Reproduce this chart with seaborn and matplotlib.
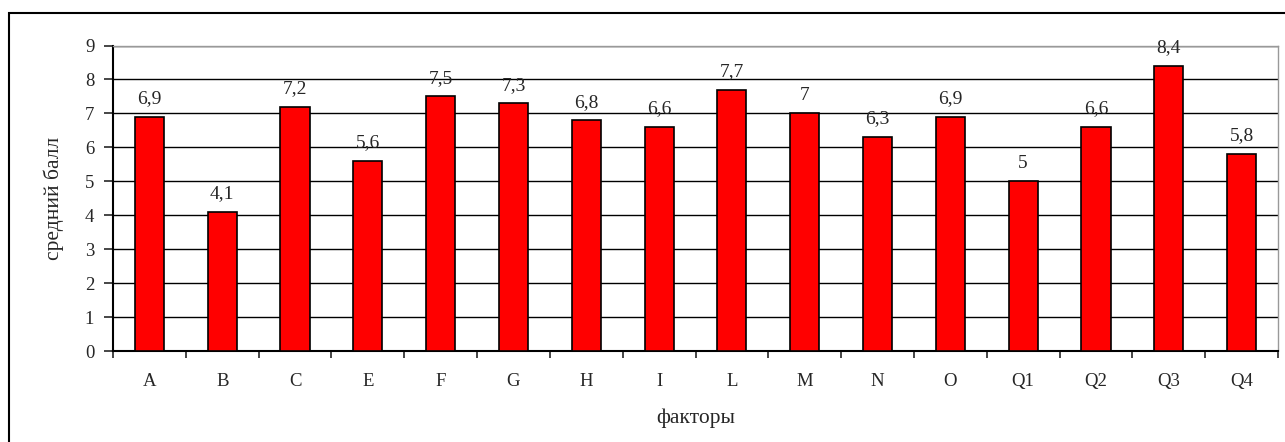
import matplotlib
matplotlib.use("Agg")
import matplotlib.pyplot as plt
import seaborn as sns
import pandas as pd
from matplotlib.patches import Rectangle

# данные
factors = ['A', 'B', 'C', 'E', 'F', 'G', 'H', 'I', 'L', 'M', 'N', 'O', 'Q1', 'Q2', 'Q3', 'Q4']
scores = [6.9, 4.1, 7.2, 5.6, 7.5, 7.3, 6.8, 6.6, 7.7, 7.0, 6.3, 6.9, 5.0, 6.6, 8.4, 5.8]

df = pd.DataFrame({'factor': factors, 'score': scores})

sns.set_style("white")
plt.rcParams['font.family'] = ['Liberation Serif', 'DejaVu Serif']
FS_TICK = 13.5
FS_VAL = 14
FS_TITLE = 15.5

fig = plt.figure(figsize=(12.85, 4.42), dpi=100)
ax = fig.add_axes([113 / 1285, 1 - 351 / 442, (1278 - 113) / 1285, (351 - 45.5) / 442])

sns.barplot(data=df, x='factor', y='score', ax=ax, color='#ff0000',
            edgecolor='black', linewidth=1.2, width=0.4, saturation=1, zorder=3)

ax.set_ylim(0, 9)
ax.set_xlim(-0.5, len(factors) - 0.5)
ax.set_yticks(range(0, 10))
ax.yaxis.grid(True, color='black', linewidth=1.0, zorder=0)
ax.set_axisbelow(True)

# подписи значений
for i, v in enumerate(scores):
    txt = f'{v:g}'.replace('.', ',')
    ax.text(i, v + 0.4, txt, ha='center', va='baseline', fontsize=FS_VAL)

# оси
for s in ['left', 'bottom']:
    ax.spines[s].set_color('black')
    ax.spines[s].set_linewidth(1.5)
for s in ['top', 'right']:
    ax.spines[s].set_color('#999999')
    ax.spines[s].set_linewidth(1.0)

ax.tick_params(axis='y', which='major', direction='out', length=6.5, width=1.2,
               left=True, labelsize=FS_TICK, pad=7)
ax.tick_params(axis='x', which='major', length=0, labelsize=FS_TICK, pad=16)
ax.set_xticks(range(len(factors)))
ax.set_xticklabels(factors)
ax.set_xticks([i - 0.5 for i in range(len(factors) + 1)], minor=True)
ax.tick_params(axis='x', which='minor', direction='out', length=5, width=1.2, bottom=True)

ax.set_xlabel('факторы', fontsize=FS_TITLE)
ax.set_ylabel('средний балл', fontsize=FS_TITLE)
ax.xaxis.set_label_coords(0.5, -0.188)
ax.yaxis.set_label_coords(-0.042, 0.5)

# рамка вокруг диаграммы
fig.patches.append(Rectangle((9 / 1285, -0.05), 1.0, 1 - 13 / 442 + 0.05,
                             transform=fig.transFigure, fill=False,
                             edgecolor='black', linewidth=1.5, zorder=10))

fig.savefig('out.png', dpi=100)
